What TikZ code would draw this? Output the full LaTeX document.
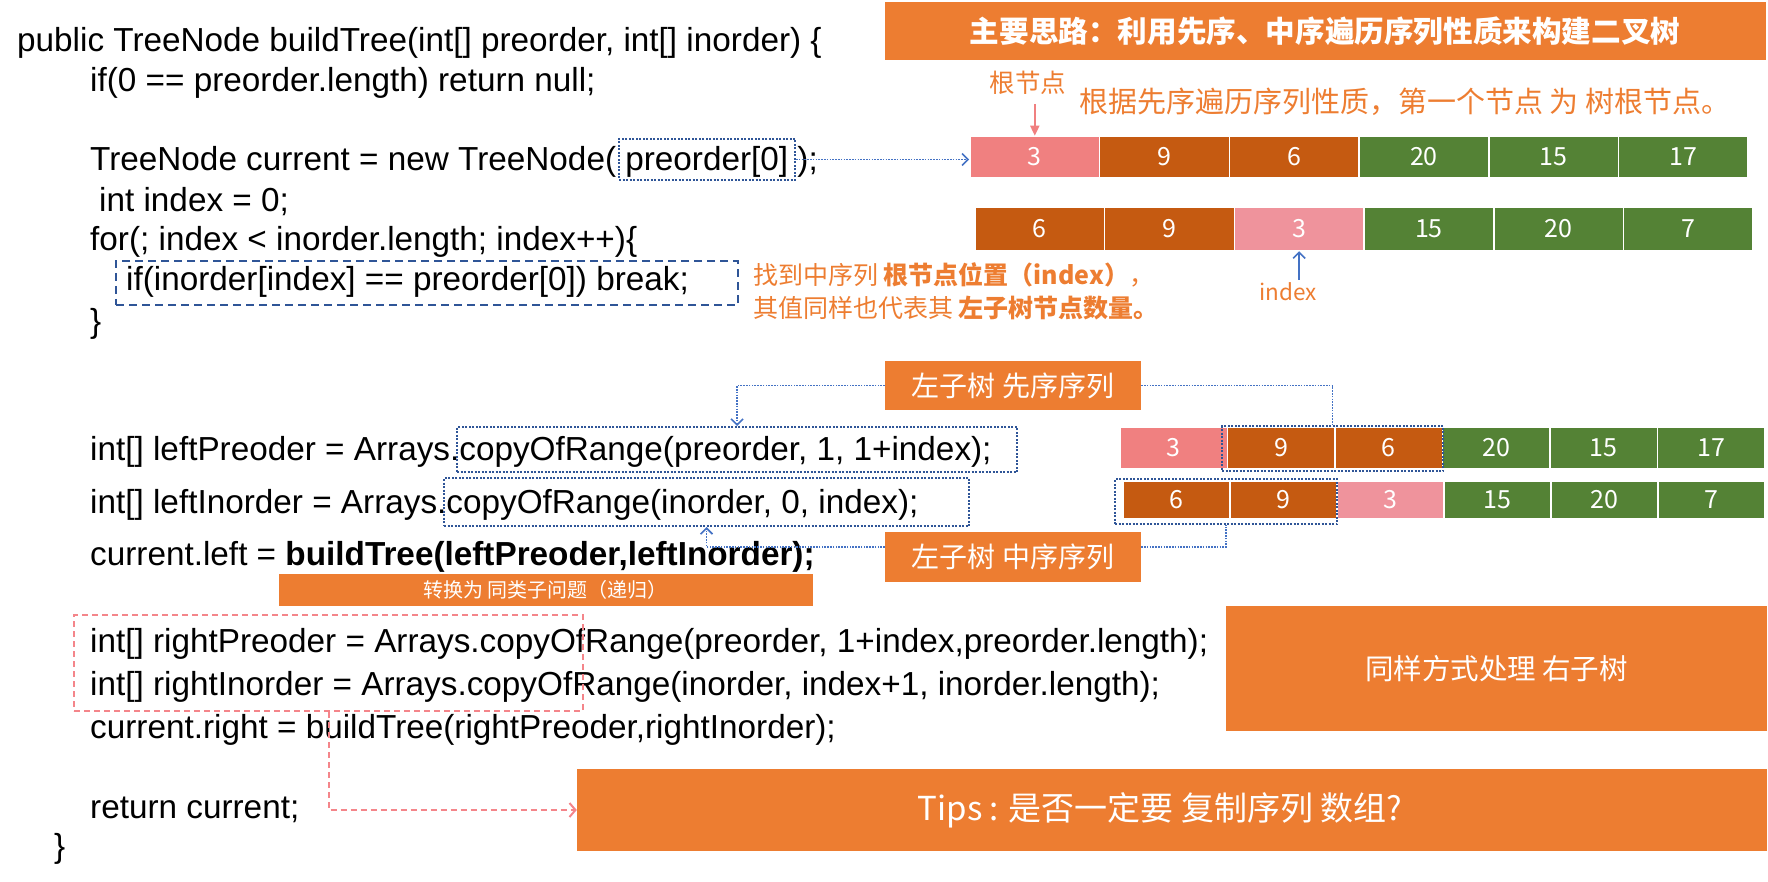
\documentclass[tikz,border=0pt]{standalone}
\usepackage{fontspec}
\setmainfont{Liberation Sans}
\newfontfamily\cjk{Noto Sans CJK SC}
\usetikzlibrary{arrows.meta}
\definecolor{orng}{HTML}{ED7D31}
\definecolor{brwn}{HTML}{C55A11}
\definecolor{grn}{HTML}{548235}
\definecolor{pkA}{HTML}{F08080}
\definecolor{pkB}{HTML}{EF939C}
\definecolor{dblue}{HTML}{2F5597}
\definecolor{lblue}{HTML}{4472C4}
\definecolor{rdash}{HTML}{F4858A}
\begin{document}
\begin{tikzpicture}[x=1pt,y=-1pt,
  code/.style={anchor=base west, inner sep=0pt, font=\fontsize{33.3}{40}\selectfont},
  cell/.style={draw=white, line width=1.5pt, text=white, inner sep=0pt, font=\cjk\fontsize{25}{28}\selectfont},
  rowA/.style={cell, minimum width=129.7pt, minimum height=41pt},
  rowB/.style={cell, minimum width=129.7pt, minimum height=43pt},
  rowC/.style={cell, minimum width=107.5pt, minimum height=41pt},
  rowD/.style={cell, minimum width=107pt, minimum height=38pt},
  dotbox/.style={draw=dblue, line width=2pt, dash pattern=on 2pt off 1.5pt, inner sep=0pt},
  dashbox/.style={draw=dblue, line width=2pt, dash pattern=on 8pt off 5pt, inner sep=0pt},
  reddash/.style={draw=rdash, line width=2pt, dash pattern=on 6pt off 4pt},
  lbdot/.style={draw=lblue, line width=1.6pt, dash pattern=on 1.6pt off 1.2pt},
  barb/.style={-{Straight Barb[length=6pt,width=12pt,line width=1.6pt]}},
  obox/.style={fill=orng, text=white, inner sep=0pt},
  olabel/.style={text=orng, inner sep=0pt}
]
\useasboundingbox (0,0) rectangle (1768,882);

% ---------- title ----------
\node[obox, minimum width=881pt, minimum height=58pt, font=\cjk\bfseries\fontsize{29.6}{34}\selectfont] (title) at (1325,31) {主要思路：利用先序、中序遍历序列性质来构建二叉树};

% ---------- code ----------
\node[code] (c1) at (17,52) {public TreeNode buildTree(int[] preorder, int[] inorder) \{};
\node[code] (c2) at (90,92) {if(0 == preorder.length) return null;};
\node[code] (c3) at (90,171) {TreeNode current = new TreeNode( preorder[0] );};
\node[code] (c4) at (99,212) {int index = 0;};
\node[code] (c5) at (90,251) {for(; index < inorder.length; index++)\{};
\node[code] (c6) at (126,291) {if(inorder[index] == preorder[0]) break;};
\node[code] (c7) at (90,332) {\}};
\node[code] (c8) at (90,460) {int[] leftPreoder = Arrays.copyOfRange(preorder, 1, 1+index);};
\node[code] (c9) at (90,513) {int[] leftInorder = Arrays.copyOfRange(inorder, 0, index);};
\node[code] (c10) at (90,565) {current.left = \textbf{buildTree(leftPreoder,leftInorder);}};
\node[code] (c11) at (90,652) {int[] rightPreoder = Arrays.copyOfRange(preorder, 1+index,preorder.length);};
\node[code] (c12) at (90,695) {int[] rightInorder = Arrays.copyOfRange(inorder, index+1, inorder.length);};
\node[code] (c13) at (90,738) {current.right = buildTree(rightPreoder,rightInorder);};
\node[code] (c14) at (90,818) {return current;};
\node[code] (c15) at (54,857) {\}};

% ---------- highlight boxes ----------
\node[dotbox, minimum width=176pt, minimum height=41pt] (b1) at (707,159.5) {};
\node[dashbox, minimum width=622pt, minimum height=44pt] (b2) at (427,283) {};
\node[dotbox, minimum width=560pt, minimum height=45pt] (b3) at (737,449.5) {};
\node[dotbox, minimum width=525pt, minimum height=48pt] (b4) at (706.5,502) {};
\node[reddash, minimum width=509pt, minimum height=96pt, inner sep=0pt] (b7) at (328.5,663) {};

% ---------- arrays ----------
\node[rowA, fill=pkA]  (r1c1) at (1034.8,157) {3};
\node[rowA, fill=brwn] (r1c2) at (1164.5,157) {9};
\node[rowA, fill=brwn] (r1c3) at (1294.2,157) {6};
\node[rowA, fill=grn]  (r1c4) at (1423.9,157) {20};
\node[rowA, fill=grn]  (r1c5) at (1553.6,157) {15};
\node[rowA, fill=grn]  (r1c6) at (1683.3,157) {17};

\node[rowB, fill=brwn] (r2c1) at (1039.8,229) {6};
\node[rowB, fill=brwn] (r2c2) at (1169.5,229) {9};
\node[rowB, fill=pkB]  (r2c3) at (1299.2,229) {3};
\node[rowB, fill=grn]  (r2c4) at (1428.9,229) {15};
\node[rowB, fill=grn]  (r2c5) at (1558.6,229) {20};
\node[rowB, fill=grn]  (r2c6) at (1688.3,229) {7};

\node[rowC, fill=pkA]  (r3c1) at (1173.75,448) {3};
\node[rowC, fill=brwn] (r3c2) at (1281.25,448) {9};
\node[rowC, fill=brwn] (r3c3) at (1388.75,448) {6};
\node[rowC, fill=grn]  (r3c4) at (1496.25,448) {20};
\node[rowC, fill=grn]  (r3c5) at (1603.75,448) {15};
\node[rowC, fill=grn]  (r3c6) at (1711.25,448) {17};

\node[rowD, fill=brwn] (r4c1) at (1176.5,500) {6};
\node[rowD, fill=brwn] (r4c2) at (1283.5,500) {9};
\node[rowD, fill=pkB]  (r4c3) at (1390.5,500) {3};
\node[rowD, fill=grn]  (r4c4) at (1497.5,500) {15};
\node[rowD, fill=grn]  (r4c5) at (1604.5,500) {20};
\node[rowD, fill=grn]  (r4c6) at (1711.5,500) {7};

\node[dotbox, minimum width=221pt, minimum height=45pt] (b5) at (1332.5,448.5) {};
\node[dotbox, minimum width=222pt, minimum height=45pt] (b6) at (1226,501.5) {};

% ---------- labels ----------
\node[olabel, font=\cjk\fontsize{25.5}{28}\selectfont] (gen) at (1028,83) {根节点};
\node[olabel, anchor=west, font=\cjk\fontsize{29}{33}\selectfont] (prop) at (1079,102) {根据先序遍历序列性质，第一个节点 为 树根节点。};
\node[olabel, anchor=west, align=left, font=\cjk\fontsize{25}{33}\selectfont] (find) at (753,291.5) {找到中序列 \textbf{根节点位置（index）}，\\其值同样也代表其 \textbf{左子树节点数量。}};
\node[olabel, font=\cjk\fontsize{22.5}{26}\selectfont] (idx) at (1288,292) {index};

% ---------- callouts ----------
\node[obox, minimum width=256pt, minimum height=49pt, font=\cjk\fontsize{28}{32}\selectfont] (k1) at (1013,385.5) {左子树 先序序列};
\node[obox, minimum width=256pt, minimum height=50pt, font=\cjk\fontsize{28}{32}\selectfont] (k2) at (1013,557) {左子树 中序序列};
\node[obox, minimum width=534pt, minimum height=32pt, font=\cjk\fontsize{20}{23}\selectfont] (rec) at (545.5,590) {转换为 同类子问题（递归）};
\node[obox, minimum width=541pt, minimum height=125pt, font=\cjk\fontsize{28.5}{32}\selectfont] (rbox) at (1496.5,668.5) {同样方式处理 右子树};
\node[obox, minimum width=1190pt, minimum height=82pt] (tips) at (1172,810) {};
\node[text=white, inner sep=0pt, font=\cjk\fontsize{33}{38}\selectfont] (tipstext) at ([xshift=-12pt]tips.center) {Tips : 是否一定要 复制序列 数组?};

% ---------- connectors ----------
\draw[lbdot, barb] (b1.east) -- (b1.east -| r1c1.west);
\draw[draw=pkA, line width=1.8pt, -{Triangle[length=10pt,width=9pt]}, shorten <=9pt] (r1c1.north |- gen.south) -- (r1c1.north);
\draw[draw=lblue, line width=1.8pt, barb, shorten <=3pt] (idx.north -| r2c3.south) -- (r2c3.south);
\draw[lbdot, barb] (k1.west) -| (b3.north);
\draw[lbdot] (k1.east) -| (b5.north);
\draw[lbdot, barb] ([yshift=10pt]k2.west) -| (b4.south);
\draw[lbdot] ([yshift=10pt]k2.east) -| (b6.south);
\draw[reddash, -{Straight Barb[length=6pt,width=14pt,line width=2pt]}] (b7.south) |- (tips.west);
\end{tikzpicture}
\end{document}
